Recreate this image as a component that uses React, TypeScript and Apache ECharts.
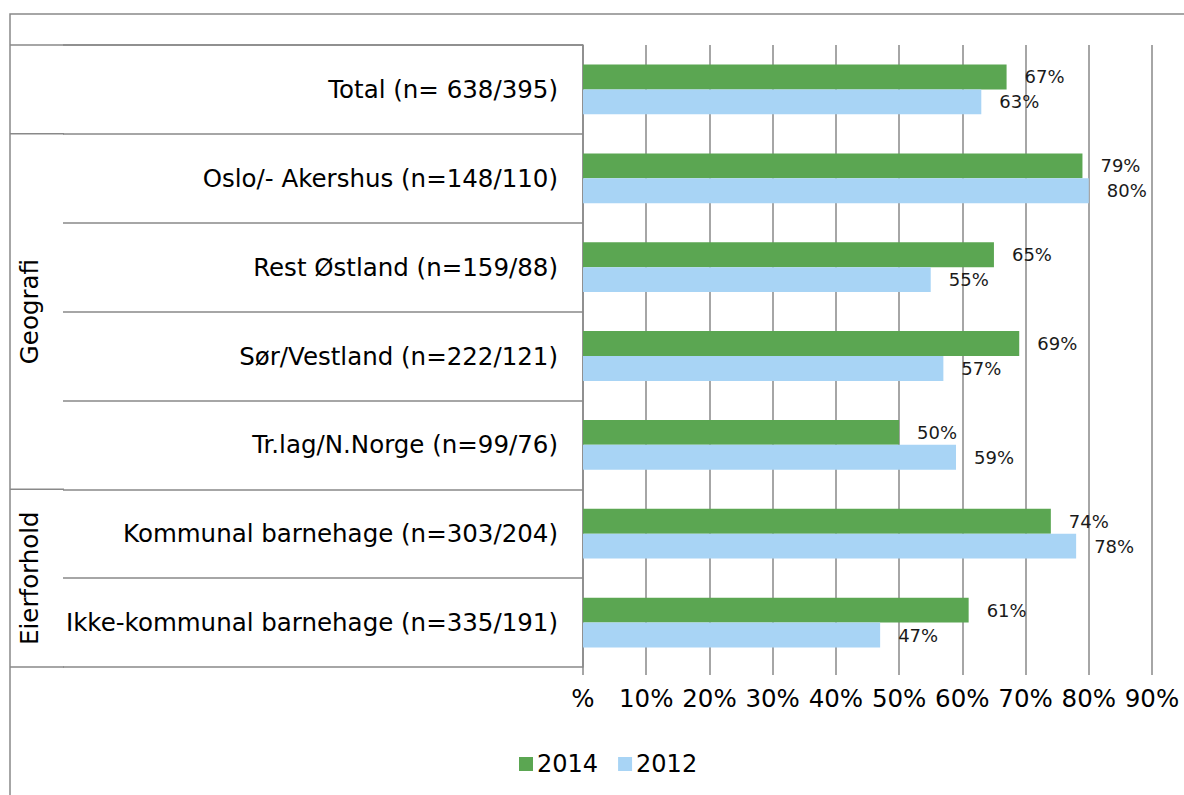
import React, { useEffect, useRef } from "react";
import * as echarts from "echarts";

const categories = [
  "Total (n= 638/395)",
  "Oslo/- Akershus (n=148/110)",
  "Rest Østland (n=159/88)",
  "Sør/Vestland (n=222/121)",
  "Tr.lag/N.Norge (n=99/76)",
  "Kommunal barnehage (n=303/204)",
  "Ikke-kommunal barnehage (n=335/191)",
];
const values2014 = [67, 79, 65, 69, 50, 74, 61];
const values2012 = [63, 80, 55, 57, 59, 78, 47];
const groups = [
  { name: "Geografi", from: 1, to: 4 },
  { name: "Eierforhold", from: 5, to: 6 },
];
const seriesNames = ["2014", "2012"];

const FONT = "'DejaVu Sans', Verdana, sans-serif";
const GRID = "#898989";

export default function App() {
  const ref = useRef<HTMLDivElement>(null);
  useEffect(() => {
    document.body.style.margin = "0";
    const chart = echarts.init(ref.current!, null, { renderer: "svg" });
    const labelStyle = {
      show: true,
      position: "right" as const,
      distance: 18,
      formatter: (p: any) => p.value + "%",
      fontFamily: FONT,
      fontSize: 18,
      color: "#1a1a1a",
    };
    chart.setOption({
      animation: false,
      grid: { left: 583, top: 45, width: 569, height: 622, containLabel: false },
      legend: {
        left: 519,
        top: 752,
        padding: 0,
        itemWidth: 14,
        itemHeight: 14,
        itemGap: 20,
        icon: "rect",
        textStyle: { fontFamily: FONT, fontSize: 24, color: "#000", padding: [0, 0, 0, -1] },
        data: seriesNames,
      },
      xAxis: {
        type: "value",
        min: 0,
        max: 90,
        interval: 10,
        axisLine: { show: false },
        axisTick: { show: true, length: 8, lineStyle: { color: GRID, width: 1.5 } },
        splitLine: { show: true, lineStyle: { color: GRID, width: 1.5 } },
        axisLabel: {
          formatter: (v: number) => (v === 0 ? "%" : v + "%"),
          fontFamily: FONT,
          fontSize: 24.5,
          color: "#000",
          margin: 19,
        },
      },
      yAxis: {
        type: "category",
        inverse: true,
        data: categories,
        axisLine: { show: true, lineStyle: { color: GRID, width: 1.5 } },
        axisTick: { show: true, length: 520, interval: 0, lineStyle: { color: GRID, width: 1.5 } },
        axisLabel: {
          fontFamily: FONT,
          fontSize: 24.5,
          color: "#000",
          margin: 25,
          interval: 0,
        },
      },
      series: [
        {
          name: seriesNames[0],
          type: "bar",
          data: values2014,
          itemStyle: { color: "#5BA652" },
          barGap: "0%",
          barCategoryGap: "44%",
          label: labelStyle,
        },
        {
          name: seriesNames[1],
          type: "bar",
          data: values2012,
          itemStyle: { color: "#A8D4F5" },
          label: labelStyle,
        },
      ],
    });

    // Structural lines & group labels, positioned from axis scales
    const yOf = (i: number) => chart.convertToPixel({ yAxisIndex: 0 }, i) as number;
    const half = (yOf(1) - yOf(0)) / 2;
    const top = yOf(0) - half;
    const bottom = yOf(categories.length - 1) + half;
    const x0 = chart.convertToPixel({ xAxisIndex: 0 }, 0) as number;
    const lineStyle = { stroke: GRID, lineWidth: 1.5 };
    const fullLines = [top, yOf(groups[0].from) - half, yOf(groups[1].from) - half, bottom];
    const graphics: any[] = [
      {
        type: "rect",
        shape: { x: 10, y: 14, width: 1300, height: 900 },
        style: { fill: "none", stroke: GRID, lineWidth: 1.5 },
        silent: true,
      },
    ];
    fullLines.forEach((y, k) => {
      graphics.push({
        type: "line",
        shape: { x1: 10, y1: y, x2: k === 0 ? x0 : 64, y2: y },
        style: lineStyle,
        silent: true,
      });
    });
    groups.forEach((g) => {
      const cy = (yOf(g.from) + yOf(g.to)) / 2;
      graphics.push({
        type: "text",
        x: 29,
        y: cy,
        rotation: Math.PI / 2,
        style: {
          text: g.name,
          fontFamily: FONT,
          fontSize: 24.5,
          fill: "#000",
          align: "center",
          verticalAlign: "middle",
        },
        silent: true,
      });
    });
    chart.setOption({ graphic: graphics });
    return () => chart.dispose();
  }, []);
  return <div ref={ref} style={{ width: 1184, height: 795 }} />;
}
